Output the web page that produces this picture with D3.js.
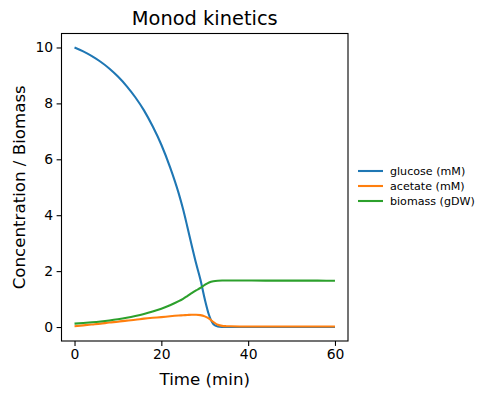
<!DOCTYPE html>
<html>
<head>
<meta charset="utf-8">
<script src="https://cdn.jsdelivr.net/npm/d3@7"></script>
<style>
  html, body { margin: 0; padding: 0; background: #fff; }
  svg { display: block; font-family: "DejaVu Sans", sans-serif; }
</style>
</head>
<body>
<svg id="chart" width="489" height="398"></svg>
<script>
// ---- data ----
const time = [0, 2, 4, 6, 8, 10, 12, 14, 16, 18, 20, 22, 24, 25, 26, 27, 28, 29, 30, 31, 32, 33, 34, 35, 36, 38, 40, 44, 48, 52, 56, 60];
const glucose = [10.00, 9.86, 9.69, 9.49, 9.25, 8.96, 8.62, 8.22, 7.75, 7.18, 6.52, 5.72, 4.78, 4.22, 3.58, 2.92, 2.28, 1.70, 1.00, 0.42, 0.10, 0.02, 0.005, 0.001, 0, 0, 0, 0, 0, 0, 0, 0];
const acetate = [0.03, 0.06, 0.09, 0.12, 0.16, 0.19, 0.23, 0.26, 0.30, 0.33, 0.355, 0.385, 0.41, 0.42, 0.43, 0.44, 0.44, 0.425, 0.38, 0.30, 0.18, 0.08, 0.04, 0.03, 0.025, 0.02, 0.02, 0.02, 0.02, 0.02, 0.02, 0.02];
const biomass = [0.120, 0.142, 0.168, 0.199, 0.236, 0.280, 0.332, 0.394, 0.466, 0.554, 0.656, 0.779, 0.924, 1.010, 1.109, 1.211, 1.309, 1.398, 1.506, 1.595, 1.640, 1.657, 1.662, 1.663, 1.663, 1.662, 1.662, 1.661, 1.660, 1.659, 1.658, 1.657];
const seriesNames = ["glucose (mM)", "acetate (mM)", "biomass (gDW)"];
const seriesColors = ["#1f77b4", "#ff7f0e", "#2ca02c"];
const xTicks = [0, 20, 40, 60];
const yTicks = [0, 2, 4, 6, 8, 10];
const titleText = "Monod kinetics";
const xLabel = "Time (min)";
const yLabel = "Concentration / Biomass";

// ---- layout ----
const svg = d3.select("#chart");
const L = 61.5, R = 348, T = 33.5, B = 341;
const x = d3.scaleLinear().domain([-3, 63]).range([L, R]);
const y = d3.scaleLinear().domain([-0.5, 10.5]).range([B, T]);

const clipId = "plotclip";
svg.append("defs").append("clipPath").attr("id", clipId)
  .append("rect").attr("x", L).attr("y", T).attr("width", R - L).attr("height", B - T);

const allSeries = [glucose, acetate, biomass];
const line = d3.line().x(d => x(d[0])).y(d => y(d[1])).curve(d3.curveMonotoneX);

const g = svg.append("g").attr("clip-path", `url(#${clipId})`);
allSeries.forEach((vals, i) => {
  g.append("path")
    .datum(time.map((t, k) => [t, vals[k]]))
    .attr("d", line)
    .attr("fill", "none")
    .attr("stroke", seriesColors[i])
    .attr("stroke-width", 2.1)
    .attr("stroke-linejoin", "round")
    .attr("stroke-linecap", "butt");
});

// axes
const xAxis = d3.axisBottom(x).tickValues(xTicks).tickSize(4.9).tickPadding(3.5).tickFormat(d3.format("d"));
const yAxis = d3.axisLeft(y).tickValues(yTicks).tickSize(4.9).tickPadding(3.5).tickFormat(d3.format("d"));

const gx = svg.append("g").attr("transform", `translate(0,${B})`).call(xAxis);
const gy = svg.append("g").attr("transform", `translate(${L},0)`).call(yAxis);
[gx, gy].forEach(a => {
  a.select(".domain").remove();
  a.selectAll(".tick line").attr("stroke", "#000").attr("stroke-width", 1.1);
  a.selectAll(".tick text").attr("fill", "#000").style("font-size", "13.9px").style("font-family", "DejaVu Sans");
});
gx.selectAll(".tick text").attr("dy", "0.71em");

// frame
svg.append("rect").attr("x", L).attr("y", T).attr("width", R - L).attr("height", B - T)
  .attr("fill", "none").attr("stroke", "#000").attr("stroke-width", 1.1);

// title & labels
svg.append("text").attr("x", (L + R) / 2).attr("y", 25).attr("text-anchor", "middle")
  .style("font-size", "19.4px").text(titleText);
svg.append("text").attr("x", (L + R) / 2).attr("y", 385).attr("text-anchor", "middle")
  .style("font-size", "16.67px").text(xLabel);
svg.append("text").attr("transform", `translate(24.5,${(T + B) / 2}) rotate(-90)`)
  .attr("text-anchor", "middle").style("font-size", "16.67px").text(yLabel);

// legend
const lg = svg.append("g");
seriesNames.forEach((name, i) => {
  const yy = 171 + i * 15;
  lg.append("line").attr("x1", 358).attr("x2", 383).attr("y1", yy).attr("y2", yy)
    .attr("stroke", seriesColors[i]).attr("stroke-width", 2.1);
  lg.append("text").attr("x", 390).attr("y", yy).attr("dy", "0.36em")
    .style("font-size", "11.1px").text(name);
});
</script>
</body>
</html>
